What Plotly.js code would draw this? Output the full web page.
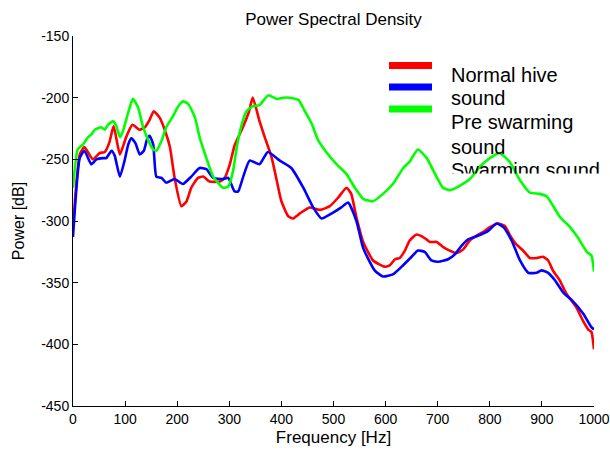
<!DOCTYPE html>
<html>
<head>
<meta charset="utf-8">
<script src="https://cdn.plot.ly/plotly-3.0.1.min.js"></script>
<style>html,body{margin:0;padding:0;background:#fff;}#chart{width:610px;height:450px;}</style>
</head>
<body>
<div id="chart"></div>
<script>
// ---- data ----
const seriesNames = ["Normal hive sound", "Pre swarming sound", "Swarming sound"];
const legendLines = ["Normal hive", "sound", "Pre swarming", "sound", "Swarming sound"];

const normalFreq = [0,13,22,38,51,61,70,78,90,102,114,128,138,147,155,166,176,186,195,208,218,227,240,250,262,282,291,301,310,326,338,345,358,368,381,391,400,413,422,435,454,474,493,509,525,534,544,557,576,598,608,618,627,637,646,659,672,685,698,710,723,736,749,761,774,787,800,816,829,838,851,864,877,890,902,912,921,934,947,966,979,989,995,1000];
const normalPower = [-305,-246,-240,-250,-245,-244,-236,-223,-246,-232,-222,-226,-224,-218,-211,-216,-226,-240,-265,-288,-284,-273,-265,-264,-268,-268,-265,-254,-239,-224,-211,-200,-219,-232,-248,-267,-284,-296,-298,-294,-289,-291,-288,-281,-273,-278,-297,-317,-332,-337,-336,-331,-330,-324,-316,-311,-313,-317,-317,-321,-324,-326,-323,-316,-312,-309,-305,-302,-304,-311,-319,-324,-330,-330,-329,-332,-340,-348,-359,-370,-381,-388,-390,-404];

const preFreq = [0,13,22,35,45,58,64,74,80,90,99,106,112,120,128,136,142,147,154,160,170,179,195,211,227,243,256,269,288,298,310,317,326,339,358,374,397,419,442,461,477,496,515,528,544,557,579,595,615,631,650,662,675,688,701,720,733,746,758,777,797,813,826,842,858,874,890,899,912,925,941,957,979,995,1000];
const prePower = [-313,-249,-243,-254,-250,-249,-249,-243,-247,-264,-251,-238,-233,-237,-246,-243,-234,-231,-238,-264,-265,-269,-266,-270,-264,-257,-258,-265,-266,-265,-276,-276,-265,-251,-254,-244,-251,-257,-273,-289,-298,-294,-289,-285,-300,-322,-340,-345,-343,-337,-329,-324,-325,-332,-333,-331,-327,-320,-315,-312,-308,-302,-305,-316,-332,-342,-342,-340,-342,-348,-358,-364,-375,-386,-388];

const swarmFreq = [0,9,19,29,35,42,54,61,67,77,83,90,96,106,115,125,134,144,154,160,170,179,192,202,211,221,234,243,256,269,288,298,307,314,323,333,345,358,375,391,403,416,433,445,458,470,486,506,525,541,557,576,595,614,634,646,662,679,695,710,723,736,762,781,800,819,838,858,877,896,909,919,935,954,970,986,995,1000];
const swarmPower = [-273,-242,-238,-232,-230,-226,-224,-226,-222,-219,-223,-232,-227,-212,-201,-208,-223,-234,-242,-243,-235,-224,-215,-207,-203,-205,-216,-232,-249,-264,-273,-272,-260,-241,-223,-211,-207,-206,-198,-201,-200,-200,-202,-211,-221,-234,-244,-254,-262,-273,-282,-284,-278,-270,-257,-252,-242,-249,-262,-273,-275,-273,-266,-256,-249,-245,-252,-267,-277,-278,-280,-286,-297,-305,-314,-325,-328,-341];

const xTicks = [0,100,200,300,400,500,600,700,800,900,1000];
const yTicks = [-450,-400,-350,-300,-250,-200,-150];

// ---- styling ----
const colors = ["#ff0000", "#0000ff", "#00ff00"];
const FONT = "Liberation Sans, Arial, sans-serif";
const W = 610, H = 450, L = 73, R = 16, T = 36, B = 44;
const pw = W - L - R, ph = H - T - B;
const px2x = p => (p - L) / pw;
const py2y = p => (H - B - p) / ph;

const xs = [normalFreq, preFreq, swarmFreq];
const ys = [normalPower, prePower, swarmPower];
const traces = seriesNames.map((n, i) => ({
  type: "scatter", mode: "lines", name: n,
  x: xs[i], y: ys[i],
  line: {color: colors[i], width: 2.6, shape: "spline", smoothing: 0.5},
  showlegend: false, hoverinfo: "skip"
}));

// legend samples
const legendY = [65.5, 87, 109];
const shapes = legendY.map((py, i) => ({
  type: "line", xref: "paper", yref: "paper",
  x0: px2x(389), x1: px2x(432), y0: py2y(py), y1: py2y(py),
  line: {color: colors[i], width: 7}
}));

const textTops = [62, 85.5, 109.5, 133.5];
const annotations = textTops.map((t, i) => ({
  xref: "paper", yref: "paper", x: px2x(449), y: py2y(t),
  xanchor: "left", yanchor: "top", align: "left", showarrow: false,
  text: legendLines[i], font: {family: FONT, size: 20, color: "#000"}
}));
annotations.push({
  xref: "paper", yref: "paper", x: px2x(449), y: py2y(157),
  xanchor: "left", yanchor: "top", valign: "top", align: "left", showarrow: false,
  height: 14.5, width: 200,
  text: legendLines[4], font: {family: FONT, size: 20, color: "#000"}
});

const layout = {
  width: W, height: H,
  margin: {l: L, r: R, t: T, b: B, pad: 0},
  paper_bgcolor: "#fff", plot_bgcolor: "#fff",
  font: {family: FONT, color: "#000", size: 14},
  title: {text: "Power Spectral Density", font: {family: FONT, size: 17, color: "#000"},
          x: 0.5, xref: "paper", y: 1 - 19 / H, yref: "container", yanchor: "middle"},
  xaxis: {
    range: [0, 1000], tickvals: xTicks, ticktext: xTicks.map(String),
    ticks: "inside", ticklen: 5, tickcolor: "#000", tickwidth: 1,
    showline: true, linecolor: "#000", linewidth: 1, mirror: false,
    showgrid: false, zeroline: false,
    tickfont: {family: FONT, size: 14, color: "#000"},
    title: {text: "Frequency [Hz]", font: {family: FONT, size: 17, color: "#000"}, standoff: 5}
  },
  yaxis: {
    range: [-450, -150], tickvals: yTicks, ticktext: yTicks.map(String),
    ticks: "inside", ticklen: 5, tickcolor: "#000", tickwidth: 1,
    showline: true, linecolor: "#000", linewidth: 1, mirror: false,
    showgrid: false, zeroline: false,
    tickfont: {family: FONT, size: 14, color: "#000"},
    title: {text: "Power [dB]", font: {family: FONT, size: 16, color: "#000"}, standoff: 12}
  },
  shapes: shapes,
  annotations: annotations
};

Plotly.newPlot("chart", traces, layout, {staticPlot: true, displayModeBar: false});
</script>
</body>
</html>
